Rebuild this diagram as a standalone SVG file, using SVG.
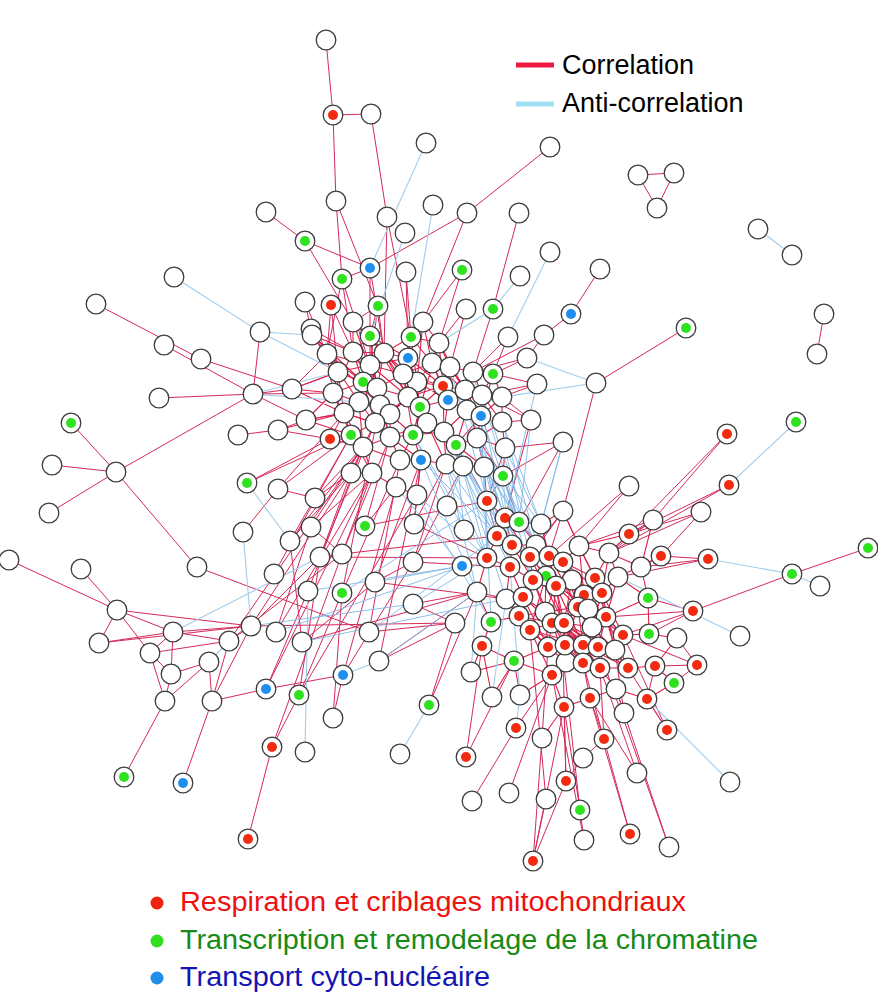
<svg xmlns="http://www.w3.org/2000/svg" width="878" height="999" viewBox="0 0 878 999">
<style>
.c{fill:none;stroke:#d42a5a;stroke-width:1;stroke-linecap:round}
.cc{fill:none;stroke:#e0204c;stroke-width:1.1;stroke-linecap:round}
.a{fill:none;stroke:#a2cdec;stroke-width:1.1;stroke-linecap:round}
.ab{fill:none;stroke:#7fb9ea;stroke-width:1;stroke-linecap:round;opacity:.9}
.n{fill:#fff;stroke:#3c3c3c;stroke-width:1.3}
.r{fill:#f22a10}.g{fill:#2ee21e}.b{fill:#1e8fee}
.t{font-family:"Liberation Sans",Arial,Helvetica,sans-serif}
</style>
<rect width="878" height="999" fill="#fff"/>
<g id="connectors">
<path class="c" d="M326 40L333 115M333 115L371 114M333 115L336 201M371 114L387 217M336 201L342 279M336 201L378 306M266 212L305 241M305 241L370 268M305 241L353 322M370 268L467 213M370 268L342 279M370 268L370 336M370 268L384 353M342 279L327 354M342 279L353 352M342 279L370 365M387 217L411 337M387 217L384 353M406 272L411 337M406 272L408 358M378 306L370 336M378 306L384 353M378 306L370 365M378 306L353 322M331 305L327 354M331 305L353 352M331 305L338 372M305 302L312 335M305 302L327 354M311 329L327 354M311 329L353 352M96 304L201 359M260 332L253 394M550 147L467 213M467 213L423 322M519 213L493 309M600 269L571 314M571 314L544 335M462 270L423 322M462 270L439 343M466 309L439 343M466 309L450 367M493 309L473 372M638 175L674 173M638 175L657 208M674 173L657 208M824 314L817 354M686 328L596 383M596 383L563 511M544 335L473 372M544 335L527 358M508 337L493 374M508 337L473 372M527 358L493 374M527 358L473 372M537 384L482 395M537 384L502 397M537 384L493 374M531 420L502 397M531 420L502 422M531 420L482 395M563 442L505 448M563 442L503 476"/>
<path class="c" d="M201 359L292 389M164 345L253 394M159 398L253 394M253 394L292 389M253 394L333 393M253 394L306 420M253 394L116 472M71 423L116 472M52 465L116 472M49 513L116 472M116 472L197 567M238 435L278 430M278 430L306 420M278 430L330 439M292 389L338 372M292 389L327 354M306 420L344 413M306 420L333 393M330 439L344 413M330 439L247 483M247 483L351 435M278 489L315 498M278 489L344 413M278 489L351 435M243 532L278 489M315 498L363 447M315 498L351 473M290 541L351 473M290 541L363 447M290 541L351 435M311 527L363 447M311 527L372 473M311 527L342 554M365 526L396 487M365 526L390 437M414 524L421 460M414 524L417 495M414 524L446 464M320 557L351 473M320 557L375 423M320 557L342 554M342 554L390 437M342 554L372 473M274 574L351 435M308 591L363 447M342 593L380 405M342 593L400 460M375 582L421 460M375 582L413 562M413 562L446 464M413 562L463 466M413 604L477 592M413 604L455 623M251 626L351 473M276 632L372 473M229 641L363 447M369 632L400 460M379 661L421 460M266 689L372 473M299 695L417 495M343 675L396 487M302 642L375 582"/>
<path class="c" d="M9 560L117 610M81 569L117 610M117 610L173 632M117 610L99 643M117 610L150 653M117 610L251 626M173 632L99 643M173 632L251 626M173 632L229 641M173 632L150 653M173 632L171 674M99 643L251 626M150 653L229 641M150 653L171 674M150 653L165 701M171 674L165 701M171 674L209 662M165 701L209 662M209 662L212 701M229 641L212 701M251 626L212 701M251 626L229 641M165 701L124 777M212 701L183 783M212 701L266 689M266 689L343 675M299 695L272 747M272 747L248 839M343 675L333 718M197 567L369 632M369 632L455 623M379 661L455 623M251 626L320 557M229 641L342 554M276 632L311 527M302 642L290 541M266 689L308 591M299 695L342 593M343 675L413 562M429 705L477 592M429 705L455 623M379 661L477 592M333 718L342 593M272 747L342 554M299 695L320 557M320 557L487 558M342 554L497 536M413 562L510 567M365 526L487 501M375 582L506 599M302 642L477 592M251 626L455 623M414 524L487 558"/>
<path class="c" d="M727 434L653 520M727 434L629 534M729 485L629 534M729 485L609 553M701 512L629 534M701 512L609 553M701 512L661 556M629 486L579 546M629 486L549 556M653 520L579 546M653 520L609 553M653 520L629 534M563 511L536 545M563 511L530 557M563 511L579 546M563 511L549 556M708 559L661 556M708 559L641 567M708 559L618 577M868 548L792 574M792 574L693 611M693 611L648 598M693 611L606 617M693 611L649 634M693 611L623 635M677 638L697 665M697 665L674 683M697 665L623 635M697 665L655 666M667 730L628 668M667 730L623 635M647 699L667 730M647 699L655 666M604 739L590 698M604 739L600 668M604 739L583 758M583 758L566 781M566 781L533 861M533 861L546 799M533 861L564 707M584 840L580 810M580 810L564 707M580 810L563 657M630 834L583 663M630 834L590 698M669 847L598 647M669 847L616 689M637 773L590 698M637 773L600 668M624 713L616 689M624 713L615 650M472 801L516 728M509 793L552 675M546 799L530 630M466 757L514 661M466 757L482 646M516 728L552 675M542 738L548 647M566 781L564 707M566 781L563 657M533 861L542 738M584 840L552 675M503 476L487 501M505 448L487 501M484 467L487 501M563 442L519 522M531 420L505 518M456 445L487 501M503 476L519 522"/>
<path class="cc" d="M353 322L370 336M353 322L353 352M353 322L384 353M423 322L411 337M423 322L408 358M423 322L432 363M312 335L327 354M312 335L338 372M312 335L353 352M370 336L384 353M370 336L370 365M370 336L408 358M411 337L408 358M411 337L432 363M411 337L384 353M439 343L432 363M439 343L450 367M439 343L443 386M327 354L338 372M327 354L370 365M327 354L333 393M353 352L370 365M353 352L363 382M384 353L370 365M384 353L403 374M384 353L377 388M408 358L403 374M408 358L417 382M408 358L370 365M370 365L363 382M370 365L377 388M432 363L417 382M432 363L443 386M450 367L473 372M450 367L443 386M450 367L465 390M473 372L493 374M473 372L482 395M493 374L482 395M493 374L502 397M338 372L333 393M338 372L363 382M363 382L359 402M363 382L377 388M417 382L408 397M417 382L443 386M377 388L380 405M377 388L408 397M403 374L417 382M403 374L408 397M443 386L448 400M443 386L465 390M408 397L420 407M408 397L390 414M333 393L359 402M333 393L344 413M292 389L333 393M292 389L338 372M380 405L390 414M380 405L359 402M380 405L375 423M359 402L344 413M344 413L351 435M344 413L375 423M420 407L448 400M420 407L413 435M448 400L465 390M448 400L467 410M465 390L482 395M482 395L481 416M502 397L502 422M481 416L467 410M481 416L477 438M467 410L444 432M390 414L390 437M390 414L375 423M375 423L363 447M351 435L363 447M351 435L330 439M363 447L351 473M390 437L413 435M390 437L400 460M413 435L427 423M427 423L444 432M444 432L456 445M444 432L446 464M456 445L477 438M456 445L463 466M477 438L505 448M477 438L484 467M400 460L421 460M421 460L446 464M446 464L463 466M463 466L484 467M484 467L503 476M505 448L503 476M351 473L372 473M372 473L396 487M396 487L417 495M417 495L421 460"/>
<path class="cc" d="M353 322L377 388M423 322L417 382M312 335L363 382M370 336L408 397M411 337L403 374M439 343L420 407M327 354L380 405M353 352L390 414M384 353L420 407M408 358L443 386M432 363L448 400M450 367L481 416M338 372L344 413M363 382L375 423M377 388L390 437M403 374L413 435M443 386L444 432M408 397L427 423M333 393L351 435M292 389L344 413M380 405L390 437M359 402L363 447M420 407L427 423M465 390L477 438M482 395L502 422M370 365L359 402M353 352L333 393M370 336L377 388M408 358L408 397M403 374L420 407M432 363L465 390M473 372L465 390M493 374L481 416M390 414L413 435M375 423L390 437M344 413L363 447M420 407L444 432M448 400L444 432M467 410L456 445M481 416L456 445M502 397L481 416M502 422L477 438M502 422L505 448M427 423L446 464M413 435L421 460M390 437L421 460M363 447L400 460M351 435L372 473M363 447L372 473M444 432L463 466M456 445L484 467M477 438L503 476M306 420L333 393M306 420L351 435M306 420L344 413M278 430L344 413M330 439L363 447M327 354L359 402M384 353L408 397M411 337L417 382M439 343L465 390M353 352L377 388M370 365L390 414M417 382L420 407M403 374L443 386"/>
<path class="cc" d="M370 365L408 397M384 353L417 382M363 382L380 405M377 388L403 374M359 402L390 414M344 413L375 423M333 393L363 382M338 372L370 365M353 352L370 336M408 397L443 386M420 407L443 386M390 414L408 397M375 423L408 397M390 437L427 423M413 435L444 432M417 382L448 400M403 374L432 363M384 353L408 358M370 365L403 374M363 382L390 414M359 402L375 423M351 435L375 423M363 447L390 437M400 460L413 435M327 354L363 382M338 372L377 388M353 352L384 353M370 336L403 374M423 322L439 343M411 337L439 343"/>
<path class="cc" d="M487 501L505 518M487 501L497 536M505 518L519 522M505 518L512 545M519 522L541 524M519 522L536 545M497 536L512 545M497 536L487 558M512 545L510 567M512 545L530 557M512 545L536 545M536 545L530 557M536 545L549 556M541 524L563 511M541 524L536 545M563 511L579 546M579 546L563 562M579 546L609 553M579 546L595 578M609 553L618 577M609 553L641 567M629 534L609 553M629 534L579 546M653 520L641 567M661 556L641 567M661 556L618 577M487 558L510 567M487 558L477 592M510 567L533 580M510 567L506 599M530 557L549 556M530 557L546 576M530 557L533 580M549 556L563 562M549 556L556 586M563 562L572 580M563 562L595 578M572 580L556 586M572 580L584 595M546 576L556 586M546 576L533 580M556 586L578 607M556 586L545 612M533 580L523 597M595 578L584 595M595 578L602 593M618 577L602 593M618 577L648 598M641 567L648 598M477 592L506 599M477 592L491 622M506 599L523 597M506 599L519 616M523 597L519 616M523 597L530 630M584 595L578 607M584 595L588 609M602 593L606 617M602 593L588 609M648 598L606 617M648 598L649 634M578 607L564 623M578 607L588 609M491 622L519 616M491 622L482 646M519 616L530 630M519 616L545 612M530 630L552 623M530 630L548 647M545 612L552 623M552 623L564 623M552 623L548 647M564 623L565 645M564 623L592 627M588 609L592 627M606 617L623 635M592 627L583 645M592 627L598 647M623 635L649 634M623 635L615 650M649 634L677 638M677 638L655 666M482 646L514 661M514 661L548 647M514 661L552 675M548 647L565 645M565 645L583 645M565 645L566 662M583 645L598 647M583 645L583 663M598 647L615 650M598 647L600 668M615 650L628 668M628 668L655 666M628 668L600 668M655 666L674 683M583 663L600 668M583 663L590 698M600 668L616 689M552 675L566 662M552 675L564 707M471 672L514 661M471 672L482 646M616 689L590 698M616 689L647 699M590 698L564 707M520 695L514 661M520 695L552 675M492 697L482 646M492 697L514 661M564 707L542 738M647 699L674 683"/>
<path class="cc" d="M505 518L530 557M519 522L549 556M497 536L530 557M512 545L533 580M536 545L563 562M510 567L523 597M530 557L556 586M549 556L578 607M563 562L584 595M546 576L545 612M556 586L564 623M533 580L519 616M595 578L588 609M523 597L545 612M584 595L606 617M578 607L592 627M530 630L565 645M545 612L548 647M552 623L583 645M564 623L598 647M588 609L623 635M548 647L583 663M565 645L600 668M583 645L628 668M556 586L552 623M572 580L578 607M546 576L530 630M549 556L572 580M579 546L584 595M609 553L602 593M563 562L578 607M545 612L564 623M552 623L565 645M564 623L583 645M548 647L566 662M541 524L549 556M556 586L583 645M578 607L565 645M584 595L598 647M564 623L600 668M552 623L583 663M533 580L552 623M523 597L552 623M545 612L583 645M606 617L615 650M602 593L623 635M592 627L628 668M588 609L552 623M578 607L545 612M572 580L564 623M595 578L578 607M602 593L592 627M606 617L598 647"/>
<path class="cc" d="M530 557L564 623M536 545L578 607M549 556L584 595M519 616L552 623M530 630L583 645M545 612L598 647M556 586L606 617M563 562L602 593M572 580L588 609M578 607L583 645M552 623L598 647M564 623L615 650M584 595L592 627M588 609L598 647M592 627L615 650M548 647L600 668M565 645L583 663M583 645L600 668M598 647L628 668M556 586L565 645M546 576L564 623M533 580L545 612M523 597L548 647M519 616L548 647M530 630L552 675M552 623L566 662M564 623L583 663M578 607L598 647M584 595L623 635M602 593L615 650M606 617L628 668M595 578L606 617M618 577L606 617M609 553L595 578M579 546L602 593M572 580L602 593M563 562L588 609"/>
<path class="a" d="M426 143L370 268M433 205L411 337M405 233L370 336M174 277L260 332M260 332L338 372M260 332L312 335M550 252L508 337M520 276L493 309M493 309L439 343M758 229L792 255M596 383L527 358M596 383L502 397M247 483L290 541M243 532L251 626M173 632L320 557M305 752L308 591M400 754L429 705M343 675L379 661M209 662L229 641M253 394L338 372M253 394L359 402M796 422L729 485M708 559L792 574M792 574L820 586M647 699L730 782M516 728L520 695M618 577L740 636M471 672L477 592M520 695L510 567M492 697L506 599"/>
<path class="ab" d="M308 591L462 566M276 632L462 566M375 582L462 566M302 642L506 599M379 661L477 592M369 632L497 536M413 604L487 558M342 593L487 501M251 626L413 604M456 445L497 536M456 445L512 545M456 445L487 558M477 438L505 518M477 438L519 522M477 438L510 567M446 464L487 558M446 464L497 536M446 464L477 592M463 466L512 545M463 466L530 557M463 466L506 599M484 467L519 522M484 467L536 545M484 467L533 580M503 476L541 524M503 476L510 567M505 448L541 524M505 448L530 557M481 416L497 536M481 416L519 522M481 416L487 558M444 432L487 501M444 432L510 567M413 435L487 558M413 435L464 530M421 460L477 592M421 460L497 536M417 495L487 558M417 495L491 622M396 487L462 566M467 410L505 518M467 410L536 545M482 395L519 522M482 395L546 576M473 372L512 545M450 367L497 536M502 422L541 524M502 422L546 576M531 420L519 522M563 442L536 545M563 442L541 524M537 384L505 518M503 476L533 580M484 467L491 622M456 445L464 530M463 466L447 506"/>
</g>
<g id="nodes">
<g id="n1"><circle class="n" cx="326" cy="40" r="9.8"/></g>
<g id="n2"><circle class="n" cx="333" cy="115" r="9.8"/><circle class="r" cx="333" cy="115" r="5"/></g>
<g id="n3"><circle class="n" cx="371" cy="114" r="9.8"/></g>
<g id="n4"><circle class="n" cx="426" cy="143" r="9.8"/></g>
<g id="n5"><circle class="n" cx="336" cy="201" r="9.8"/></g>
<g id="n6"><circle class="n" cx="266" cy="212" r="9.8"/></g>
<g id="n7"><circle class="n" cx="305" cy="241" r="9.8"/><circle class="g" cx="305" cy="241" r="5"/></g>
<g id="n8"><circle class="n" cx="370" cy="268" r="9.8"/><circle class="b" cx="370" cy="268" r="5"/></g>
<g id="n9"><circle class="n" cx="342" cy="279" r="9.8"/><circle class="g" cx="342" cy="279" r="5"/></g>
<g id="n10"><circle class="n" cx="387" cy="217" r="9.8"/></g>
<g id="n11"><circle class="n" cx="433" cy="205" r="9.8"/></g>
<g id="n12"><circle class="n" cx="405" cy="233" r="9.8"/></g>
<g id="n13"><circle class="n" cx="406" cy="272" r="9.8"/></g>
<g id="n14"><circle class="n" cx="378" cy="306" r="9.8"/><circle class="g" cx="378" cy="306" r="5"/></g>
<g id="n15"><circle class="n" cx="331" cy="305" r="9.8"/><circle class="r" cx="331" cy="305" r="5"/></g>
<g id="n16"><circle class="n" cx="305" cy="302" r="9.8"/></g>
<g id="n17"><circle class="n" cx="174" cy="277" r="9.8"/></g>
<g id="n18"><circle class="n" cx="96" cy="304" r="9.8"/></g>
<g id="n19"><circle class="n" cx="260" cy="332" r="9.8"/></g>
<g id="n20"><circle class="n" cx="311" cy="329" r="9.8"/></g>
<g id="n21"><circle class="n" cx="550" cy="147" r="9.8"/></g>
<g id="n22"><circle class="n" cx="467" cy="213" r="9.8"/></g>
<g id="n23"><circle class="n" cx="519" cy="213" r="9.8"/></g>
<g id="n24"><circle class="n" cx="550" cy="252" r="9.8"/></g>
<g id="n25"><circle class="n" cx="520" cy="276" r="9.8"/></g>
<g id="n26"><circle class="n" cx="600" cy="269" r="9.8"/></g>
<g id="n27"><circle class="n" cx="462" cy="270" r="9.8"/><circle class="g" cx="462" cy="270" r="5"/></g>
<g id="n28"><circle class="n" cx="493" cy="309" r="9.8"/><circle class="g" cx="493" cy="309" r="5"/></g>
<g id="n29"><circle class="n" cx="466" cy="309" r="9.8"/></g>
<g id="n30"><circle class="n" cx="571" cy="314" r="9.8"/><circle class="b" cx="571" cy="314" r="5"/></g>
<g id="n31"><circle class="n" cx="638" cy="175" r="9.8"/></g>
<g id="n32"><circle class="n" cx="674" cy="173" r="9.8"/></g>
<g id="n33"><circle class="n" cx="657" cy="208" r="9.8"/></g>
<g id="n34"><circle class="n" cx="758" cy="229" r="9.8"/></g>
<g id="n35"><circle class="n" cx="792" cy="255" r="9.8"/></g>
<g id="n36"><circle class="n" cx="824" cy="314" r="9.8"/></g>
<g id="n37"><circle class="n" cx="686" cy="328" r="9.8"/><circle class="g" cx="686" cy="328" r="5"/></g>
<g id="n38"><circle class="n" cx="817" cy="354" r="9.8"/></g>
<g id="n39"><circle class="n" cx="544" cy="335" r="9.8"/></g>
<g id="n40"><circle class="n" cx="508" cy="337" r="9.8"/></g>
<g id="u1"><circle class="n" cx="353" cy="322" r="9.8"/></g>
<g id="u2"><circle class="n" cx="423" cy="322" r="9.8"/></g>
<g id="u3"><circle class="n" cx="312" cy="335" r="9.8"/></g>
<g id="u4"><circle class="n" cx="370" cy="336" r="9.8"/><circle class="g" cx="370" cy="336" r="5"/></g>
<g id="u5"><circle class="n" cx="411" cy="337" r="9.8"/><circle class="g" cx="411" cy="337" r="5"/></g>
<g id="u6"><circle class="n" cx="439" cy="343" r="9.8"/></g>
<g id="u7"><circle class="n" cx="327" cy="354" r="9.8"/></g>
<g id="u8"><circle class="n" cx="353" cy="352" r="9.8"/></g>
<g id="u9"><circle class="n" cx="384" cy="353" r="9.8"/></g>
<g id="u10"><circle class="n" cx="408" cy="358" r="9.8"/><circle class="b" cx="408" cy="358" r="5"/></g>
<g id="u11"><circle class="n" cx="370" cy="365" r="9.8"/></g>
<g id="u12"><circle class="n" cx="432" cy="363" r="9.8"/></g>
<g id="u13"><circle class="n" cx="450" cy="367" r="9.8"/></g>
<g id="u14"><circle class="n" cx="473" cy="372" r="9.8"/></g>
<g id="u15"><circle class="n" cx="493" cy="374" r="9.8"/><circle class="g" cx="493" cy="374" r="5"/></g>
<g id="u16"><circle class="n" cx="338" cy="372" r="9.8"/></g>
<g id="u17"><circle class="n" cx="363" cy="382" r="9.8"/><circle class="g" cx="363" cy="382" r="5"/></g>
<g id="u18"><circle class="n" cx="417" cy="382" r="9.8"/></g>
<g id="u19"><circle class="n" cx="377" cy="388" r="9.8"/></g>
<g id="u20"><circle class="n" cx="403" cy="374" r="9.8"/></g>
<g id="u21"><circle class="n" cx="443" cy="386" r="9.8"/><circle class="r" cx="443" cy="386" r="5"/></g>
<g id="u22"><circle class="n" cx="408" cy="397" r="9.8"/></g>
<g id="u23"><circle class="n" cx="333" cy="393" r="9.8"/></g>
<g id="u24"><circle class="n" cx="292" cy="389" r="9.8"/></g>
<g id="u25"><circle class="n" cx="380" cy="405" r="9.8"/></g>
<g id="u26"><circle class="n" cx="359" cy="402" r="9.8"/></g>
<g id="u27"><circle class="n" cx="344" cy="413" r="9.8"/></g>
<g id="u28"><circle class="n" cx="420" cy="407" r="9.8"/><circle class="g" cx="420" cy="407" r="5"/></g>
<g id="u30"><circle class="n" cx="448" cy="400" r="9.8"/><circle class="b" cx="448" cy="400" r="5"/></g>
<g id="u31"><circle class="n" cx="465" cy="390" r="9.8"/></g>
<g id="u32"><circle class="n" cx="482" cy="395" r="9.8"/></g>
<g id="u33"><circle class="n" cx="502" cy="397" r="9.8"/></g>
<g id="u35"><circle class="n" cx="467" cy="410" r="9.8"/></g>
<g id="u34"><circle class="n" cx="481" cy="416" r="9.8"/><circle class="b" cx="481" cy="416" r="5"/></g>
<g id="u36"><circle class="n" cx="390" cy="414" r="9.8"/></g>
<g id="u37"><circle class="n" cx="375" cy="423" r="9.8"/></g>
<g id="u38"><circle class="n" cx="351" cy="435" r="9.8"/><circle class="g" cx="351" cy="435" r="5"/></g>
<g id="u39"><circle class="n" cx="330" cy="439" r="9.8"/><circle class="r" cx="330" cy="439" r="5"/></g>
<g id="u40"><circle class="n" cx="363" cy="447" r="9.8"/></g>
<g id="u41"><circle class="n" cx="390" cy="437" r="9.8"/></g>
<g id="u43"><circle class="n" cx="427" cy="423" r="9.8"/></g>
<g id="u42"><circle class="n" cx="413" cy="435" r="9.8"/><circle class="g" cx="413" cy="435" r="5"/></g>
<g id="u44"><circle class="n" cx="444" cy="432" r="9.8"/></g>
<g id="u46"><circle class="n" cx="456" cy="445" r="9.8"/><circle class="g" cx="456" cy="445" r="5"/></g>
<g id="u47"><circle class="n" cx="477" cy="438" r="9.8"/></g>
<g id="u48"><circle class="n" cx="502" cy="422" r="9.8"/></g>
<g id="u49"><circle class="n" cx="505" cy="448" r="9.8"/></g>
<g id="u50"><circle class="n" cx="400" cy="460" r="9.8"/></g>
<g id="u51"><circle class="n" cx="421" cy="460" r="9.8"/><circle class="b" cx="421" cy="460" r="5"/></g>
<g id="u52"><circle class="n" cx="446" cy="464" r="9.8"/></g>
<g id="u53"><circle class="n" cx="463" cy="466" r="9.8"/></g>
<g id="u54"><circle class="n" cx="484" cy="467" r="9.8"/></g>
<g id="u55"><circle class="n" cx="351" cy="473" r="9.8"/></g>
<g id="u56"><circle class="n" cx="372" cy="473" r="9.8"/></g>
<g id="u57"><circle class="n" cx="503" cy="476" r="9.8"/><circle class="g" cx="503" cy="476" r="5"/></g>
<g id="u58"><circle class="n" cx="527" cy="358" r="9.8"/></g>
<g id="u59"><circle class="n" cx="537" cy="384" r="9.8"/></g>
<g id="u60"><circle class="n" cx="531" cy="420" r="9.8"/></g>
<g id="u61"><circle class="n" cx="563" cy="442" r="9.8"/></g>
<g id="u62"><circle class="n" cx="306" cy="420" r="9.8"/></g>
<g id="u64"><circle class="n" cx="278" cy="430" r="9.8"/></g>
<g id="u65"><circle class="n" cx="396" cy="487" r="9.8"/></g>
<g id="u66"><circle class="n" cx="417" cy="495" r="9.8"/></g>
<g id="l1"><circle class="n" cx="164" cy="345" r="9.8"/></g>
<g id="l2"><circle class="n" cx="201" cy="359" r="9.8"/></g>
<g id="l3"><circle class="n" cx="159" cy="398" r="9.8"/></g>
<g id="l4"><circle class="n" cx="253" cy="394" r="9.8"/></g>
<g id="l5"><circle class="n" cx="71" cy="423" r="9.8"/><circle class="g" cx="71" cy="423" r="5"/></g>
<g id="l6"><circle class="n" cx="52" cy="465" r="9.8"/></g>
<g id="l7"><circle class="n" cx="116" cy="472" r="9.8"/></g>
<g id="l8"><circle class="n" cx="49" cy="513" r="9.8"/></g>
<g id="l9"><circle class="n" cx="238" cy="435" r="9.8"/></g>
<g id="l10"><circle class="n" cx="247" cy="483" r="9.8"/><circle class="g" cx="247" cy="483" r="5"/></g>
<g id="l11"><circle class="n" cx="278" cy="489" r="9.8"/></g>
<g id="l12"><circle class="n" cx="315" cy="498" r="9.8"/></g>
<g id="l13"><circle class="n" cx="243" cy="532" r="9.8"/></g>
<g id="l14"><circle class="n" cx="290" cy="541" r="9.8"/></g>
<g id="l15"><circle class="n" cx="311" cy="527" r="9.8"/></g>
<g id="l16"><circle class="n" cx="365" cy="526" r="9.8"/><circle class="g" cx="365" cy="526" r="5"/></g>
<g id="l17"><circle class="n" cx="414" cy="524" r="9.8"/></g>
<g id="l18"><circle class="n" cx="9" cy="560" r="9.8"/></g>
<g id="l19"><circle class="n" cx="81" cy="569" r="9.8"/></g>
<g id="l20"><circle class="n" cx="197" cy="567" r="9.8"/></g>
<g id="l21"><circle class="n" cx="320" cy="557" r="9.8"/></g>
<g id="l22"><circle class="n" cx="342" cy="554" r="9.8"/></g>
<g id="l23"><circle class="n" cx="274" cy="574" r="9.8"/></g>
<g id="l24"><circle class="n" cx="308" cy="591" r="9.8"/></g>
<g id="l25"><circle class="n" cx="342" cy="593" r="9.8"/><circle class="g" cx="342" cy="593" r="5"/></g>
<g id="l26"><circle class="n" cx="375" cy="582" r="9.8"/></g>
<g id="l27"><circle class="n" cx="413" cy="562" r="9.8"/></g>
<g id="l28"><circle class="n" cx="413" cy="604" r="9.8"/></g>
<g id="l29"><circle class="n" cx="117" cy="610" r="9.8"/></g>
<g id="l30"><circle class="n" cx="173" cy="632" r="9.8"/></g>
<g id="l31"><circle class="n" cx="99" cy="643" r="9.8"/></g>
<g id="l32"><circle class="n" cx="150" cy="653" r="9.8"/></g>
<g id="l33"><circle class="n" cx="251" cy="626" r="9.8"/></g>
<g id="l34"><circle class="n" cx="276" cy="632" r="9.8"/></g>
<g id="l35"><circle class="n" cx="229" cy="641" r="9.8"/></g>
<g id="l36"><circle class="n" cx="302" cy="642" r="9.8"/></g>
<g id="l37"><circle class="n" cx="369" cy="632" r="9.8"/></g>
<g id="l38"><circle class="n" cx="379" cy="661" r="9.8"/></g>
<g id="l39"><circle class="n" cx="209" cy="662" r="9.8"/></g>
<g id="l40"><circle class="n" cx="171" cy="674" r="9.8"/></g>
<g id="l41"><circle class="n" cx="165" cy="701" r="9.8"/></g>
<g id="l42"><circle class="n" cx="212" cy="701" r="9.8"/></g>
<g id="l43"><circle class="n" cx="266" cy="689" r="9.8"/><circle class="b" cx="266" cy="689" r="5"/></g>
<g id="l44"><circle class="n" cx="299" cy="695" r="9.8"/><circle class="g" cx="299" cy="695" r="5"/></g>
<g id="l45"><circle class="n" cx="343" cy="675" r="9.8"/><circle class="b" cx="343" cy="675" r="5"/></g>
<g id="l46"><circle class="n" cx="333" cy="718" r="9.8"/></g>
<g id="l47"><circle class="n" cx="272" cy="747" r="9.8"/><circle class="r" cx="272" cy="747" r="5"/></g>
<g id="l48"><circle class="n" cx="305" cy="752" r="9.8"/></g>
<g id="l49"><circle class="n" cx="429" cy="705" r="9.8"/><circle class="g" cx="429" cy="705" r="5"/></g>
<g id="l50"><circle class="n" cx="400" cy="754" r="9.8"/></g>
<g id="l51"><circle class="n" cx="124" cy="777" r="9.8"/><circle class="g" cx="124" cy="777" r="5"/></g>
<g id="l52"><circle class="n" cx="183" cy="783" r="9.8"/><circle class="b" cx="183" cy="783" r="5"/></g>
<g id="l53"><circle class="n" cx="248" cy="839" r="9.8"/><circle class="r" cx="248" cy="839" r="5"/></g>
<g id="l54"><circle class="n" cx="455" cy="623" r="9.8"/></g>
<g id="l55"><circle class="n" cx="462" cy="566" r="9.8"/><circle class="b" cx="462" cy="566" r="5"/></g>
<g id="l56"><circle class="n" cx="464" cy="530" r="9.8"/></g>
<g id="l57"><circle class="n" cx="447" cy="506" r="9.8"/></g>
<g id="d1"><circle class="n" cx="487" cy="501" r="9.8"/><circle class="r" cx="487" cy="501" r="5"/></g>
<g id="d2"><circle class="n" cx="505" cy="518" r="9.8"/><circle class="r" cx="505" cy="518" r="5"/></g>
<g id="d3"><circle class="n" cx="519" cy="522" r="9.8"/><circle class="g" cx="519" cy="522" r="5"/></g>
<g id="d4"><circle class="n" cx="541" cy="524" r="9.8"/></g>
<g id="d5"><circle class="n" cx="563" cy="511" r="9.8"/></g>
<g id="d6"><circle class="n" cx="629" cy="534" r="9.8"/><circle class="r" cx="629" cy="534" r="5"/></g>
<g id="d7"><circle class="n" cx="653" cy="520" r="9.8"/></g>
<g id="d8"><circle class="n" cx="629" cy="486" r="9.8"/></g>
<g id="d9"><circle class="n" cx="497" cy="536" r="9.8"/><circle class="r" cx="497" cy="536" r="5"/></g>
<g id="d10"><circle class="n" cx="512" cy="545" r="9.8"/><circle class="r" cx="512" cy="545" r="5"/></g>
<g id="d11"><circle class="n" cx="536" cy="545" r="9.8"/></g>
<g id="d12"><circle class="n" cx="579" cy="546" r="9.8"/></g>
<g id="d13"><circle class="n" cx="609" cy="553" r="9.8"/></g>
<g id="d14"><circle class="n" cx="661" cy="556" r="9.8"/><circle class="r" cx="661" cy="556" r="5"/></g>
<g id="d15"><circle class="n" cx="487" cy="558" r="9.8"/><circle class="r" cx="487" cy="558" r="5"/></g>
<g id="d16"><circle class="n" cx="510" cy="567" r="9.8"/><circle class="r" cx="510" cy="567" r="5"/></g>
<g id="d17"><circle class="n" cx="530" cy="557" r="9.8"/><circle class="r" cx="530" cy="557" r="5"/></g>
<g id="d18"><circle class="n" cx="549" cy="556" r="9.8"/><circle class="r" cx="549" cy="556" r="5"/></g>
<g id="d19"><circle class="n" cx="563" cy="562" r="9.8"/><circle class="r" cx="563" cy="562" r="5"/></g>
<g id="d20"><circle class="n" cx="572" cy="580" r="9.8"/></g>
<g id="d21"><circle class="n" cx="546" cy="576" r="9.8"/><circle class="g" cx="546" cy="576" r="5"/></g>
<g id="d22"><circle class="n" cx="556" cy="586" r="9.8"/><circle class="r" cx="556" cy="586" r="5"/></g>
<g id="d23"><circle class="n" cx="533" cy="580" r="9.8"/><circle class="r" cx="533" cy="580" r="5"/></g>
<g id="d24"><circle class="n" cx="595" cy="578" r="9.8"/><circle class="r" cx="595" cy="578" r="5"/></g>
<g id="d25"><circle class="n" cx="618" cy="577" r="9.8"/></g>
<g id="d26"><circle class="n" cx="641" cy="567" r="9.8"/></g>
<g id="d27"><circle class="n" cx="477" cy="592" r="9.8"/></g>
<g id="d28"><circle class="n" cx="506" cy="599" r="9.8"/></g>
<g id="d29"><circle class="n" cx="523" cy="597" r="9.8"/><circle class="r" cx="523" cy="597" r="5"/></g>
<g id="d30"><circle class="n" cx="584" cy="595" r="9.8"/><circle class="r" cx="584" cy="595" r="5"/></g>
<g id="d31"><circle class="n" cx="602" cy="593" r="9.8"/><circle class="r" cx="602" cy="593" r="5"/></g>
<g id="d32"><circle class="n" cx="648" cy="598" r="9.8"/><circle class="g" cx="648" cy="598" r="5"/></g>
<g id="d33"><circle class="n" cx="578" cy="607" r="9.8"/><circle class="r" cx="578" cy="607" r="5"/></g>
<g id="d34"><circle class="n" cx="491" cy="622" r="9.8"/><circle class="g" cx="491" cy="622" r="5"/></g>
<g id="d35"><circle class="n" cx="519" cy="616" r="9.8"/><circle class="r" cx="519" cy="616" r="5"/></g>
<g id="d36"><circle class="n" cx="530" cy="630" r="9.8"/><circle class="r" cx="530" cy="630" r="5"/></g>
<g id="d37"><circle class="n" cx="545" cy="612" r="9.8"/></g>
<g id="d38"><circle class="n" cx="552" cy="623" r="9.8"/><circle class="r" cx="552" cy="623" r="5"/></g>
<g id="d39"><circle class="n" cx="564" cy="623" r="9.8"/><circle class="r" cx="564" cy="623" r="5"/></g>
<g id="d40"><circle class="n" cx="588" cy="609" r="9.8"/></g>
<g id="d41"><circle class="n" cx="606" cy="617" r="9.8"/><circle class="r" cx="606" cy="617" r="5"/></g>
<g id="d42"><circle class="n" cx="592" cy="627" r="9.8"/></g>
<g id="d43"><circle class="n" cx="623" cy="635" r="9.8"/><circle class="r" cx="623" cy="635" r="5"/></g>
<g id="d44"><circle class="n" cx="649" cy="634" r="9.8"/><circle class="g" cx="649" cy="634" r="5"/></g>
<g id="d45"><circle class="n" cx="677" cy="638" r="9.8"/></g>
<g id="d46"><circle class="n" cx="482" cy="646" r="9.8"/><circle class="r" cx="482" cy="646" r="5"/></g>
<g id="d47"><circle class="n" cx="514" cy="661" r="9.8"/><circle class="g" cx="514" cy="661" r="5"/></g>
<g id="d49"><circle class="n" cx="566" cy="662" r="9.8"/></g>
<g id="d48"><circle class="n" cx="548" cy="647" r="9.8"/><circle class="r" cx="548" cy="647" r="5"/></g>
<g id="d50"><circle class="n" cx="565" cy="645" r="9.8"/><circle class="r" cx="565" cy="645" r="5"/></g>
<g id="d51"><circle class="n" cx="583" cy="645" r="9.8"/><circle class="r" cx="583" cy="645" r="5"/></g>
<g id="d52"><circle class="n" cx="598" cy="647" r="9.8"/><circle class="r" cx="598" cy="647" r="5"/></g>
<g id="d53"><circle class="n" cx="615" cy="650" r="9.8"/></g>
<g id="d54"><circle class="n" cx="628" cy="668" r="9.8"/><circle class="r" cx="628" cy="668" r="5"/></g>
<g id="d55"><circle class="n" cx="655" cy="666" r="9.8"/><circle class="r" cx="655" cy="666" r="5"/></g>
<g id="d56"><circle class="n" cx="583" cy="663" r="9.8"/><circle class="r" cx="583" cy="663" r="5"/></g>
<g id="d57"><circle class="n" cx="600" cy="668" r="9.8"/><circle class="r" cx="600" cy="668" r="5"/></g>
<g id="d58"><circle class="n" cx="552" cy="675" r="9.8"/><circle class="r" cx="552" cy="675" r="5"/></g>
<g id="d59"><circle class="n" cx="471" cy="672" r="9.8"/></g>
<g id="d60"><circle class="n" cx="616" cy="689" r="9.8"/></g>
<g id="d61"><circle class="n" cx="590" cy="698" r="9.8"/><circle class="r" cx="590" cy="698" r="5"/></g>
<g id="d62"><circle class="n" cx="520" cy="695" r="9.8"/></g>
<g id="d63"><circle class="n" cx="492" cy="697" r="9.8"/></g>
<g id="d64"><circle class="n" cx="564" cy="707" r="9.8"/><circle class="r" cx="564" cy="707" r="5"/></g>
<g id="d65"><circle class="n" cx="647" cy="699" r="9.8"/><circle class="r" cx="647" cy="699" r="5"/></g>
<g id="d66"><circle class="n" cx="674" cy="683" r="9.8"/><circle class="g" cx="674" cy="683" r="5"/></g>
<g id="d67"><circle class="n" cx="697" cy="665" r="9.8"/><circle class="r" cx="697" cy="665" r="5"/></g>
<g id="d68"><circle class="n" cx="740" cy="636" r="9.8"/></g>
<g id="d69"><circle class="n" cx="693" cy="611" r="9.8"/><circle class="r" cx="693" cy="611" r="5"/></g>
<g id="d70"><circle class="n" cx="516" cy="728" r="9.8"/><circle class="r" cx="516" cy="728" r="5"/></g>
<g id="d71"><circle class="n" cx="542" cy="738" r="9.8"/></g>
<g id="d72"><circle class="n" cx="466" cy="757" r="9.8"/><circle class="r" cx="466" cy="757" r="5"/></g>
<g id="d73"><circle class="n" cx="472" cy="801" r="9.8"/></g>
<g id="d74"><circle class="n" cx="509" cy="793" r="9.8"/></g>
<g id="d75"><circle class="n" cx="546" cy="799" r="9.8"/></g>
<g id="d76"><circle class="n" cx="566" cy="781" r="9.8"/><circle class="r" cx="566" cy="781" r="5"/></g>
<g id="d77"><circle class="n" cx="583" cy="758" r="9.8"/></g>
<g id="d78"><circle class="n" cx="580" cy="810" r="9.8"/><circle class="g" cx="580" cy="810" r="5"/></g>
<g id="d79"><circle class="n" cx="533" cy="861" r="9.8"/><circle class="r" cx="533" cy="861" r="5"/></g>
<g id="d80"><circle class="n" cx="584" cy="840" r="9.8"/></g>
<g id="d81"><circle class="n" cx="630" cy="834" r="9.8"/><circle class="r" cx="630" cy="834" r="5"/></g>
<g id="d82"><circle class="n" cx="669" cy="847" r="9.8"/></g>
<g id="d83"><circle class="n" cx="637" cy="773" r="9.8"/></g>
<g id="d84"><circle class="n" cx="604" cy="739" r="9.8"/><circle class="r" cx="604" cy="739" r="5"/></g>
<g id="d85"><circle class="n" cx="624" cy="713" r="9.8"/></g>
<g id="d86"><circle class="n" cx="667" cy="730" r="9.8"/><circle class="r" cx="667" cy="730" r="5"/></g>
<g id="d87"><circle class="n" cx="730" cy="782" r="9.8"/></g>
<g id="d88"><circle class="n" cx="596" cy="383" r="9.8"/></g>
<g id="d90"><circle class="n" cx="727" cy="434" r="9.8"/><circle class="r" cx="727" cy="434" r="5"/></g>
<g id="d91"><circle class="n" cx="796" cy="422" r="9.8"/><circle class="g" cx="796" cy="422" r="5"/></g>
<g id="d92"><circle class="n" cx="729" cy="485" r="9.8"/><circle class="r" cx="729" cy="485" r="5"/></g>
<g id="d93"><circle class="n" cx="701" cy="512" r="9.8"/></g>
<g id="d94"><circle class="n" cx="708" cy="559" r="9.8"/><circle class="r" cx="708" cy="559" r="5"/></g>
<g id="d95"><circle class="n" cx="868" cy="548" r="9.8"/><circle class="g" cx="868" cy="548" r="5"/></g>
<g id="d96"><circle class="n" cx="792" cy="574" r="9.8"/><circle class="g" cx="792" cy="574" r="5"/></g>
<g id="d97"><circle class="n" cx="820" cy="586" r="9.8"/></g>
</g>
<g id="legend-edges" class="t">
<line x1="516" y1="65" x2="554" y2="65" stroke="#ee1a40" stroke-width="5"/>
<line x1="516" y1="104" x2="554" y2="104" stroke="#9fdff3" stroke-width="5"/>
<text x="562" y="74" font-size="27" fill="#000">Correlation</text>
<text x="562" y="112" font-size="27" fill="#000">Anti-correlation</text>
</g>
<g id="legend-categories" class="t">
<circle cx="157" cy="903" r="6.5" fill="#ee2210"/>
<circle cx="157" cy="941" r="6.5" fill="#33dd22"/>
<circle cx="157" cy="978" r="6.5" fill="#1e8eea"/>
<text x="180" y="911" font-size="27" fill="#ee1111" textLength="506" lengthAdjust="spacingAndGlyphs">Respiration et criblages mitochondriaux</text>
<text x="180" y="949" font-size="27" fill="#178a17" textLength="578" lengthAdjust="spacingAndGlyphs">Transcription et remodelage de la chromatine</text>
<text x="180" y="986" font-size="27" fill="#1414b4" textLength="310" lengthAdjust="spacingAndGlyphs">Transport cyto-nucléaire</text>
</g>
</svg>
